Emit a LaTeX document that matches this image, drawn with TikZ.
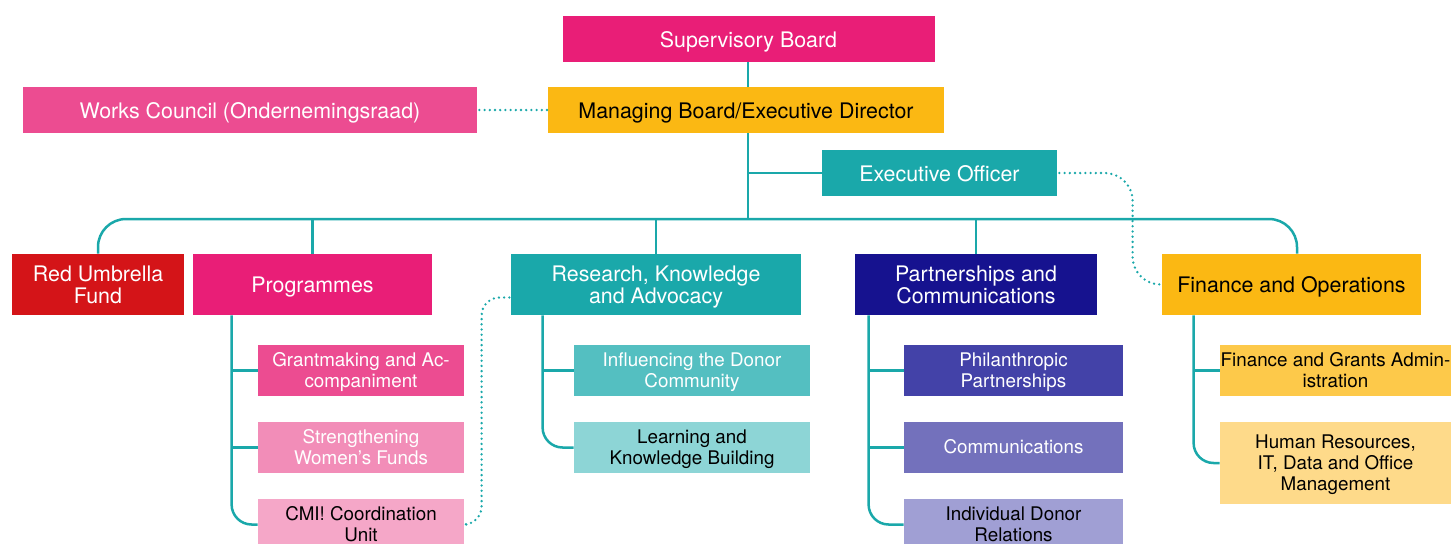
\documentclass[tikz,border=0pt]{standalone}
\usepackage{fontspec}
\setmainfont{TeX Gyre Heros}
\usepackage{tikz}

\definecolor{lineTeal}{RGB}{26,168,170}
\definecolor{boardPink}{RGB}{233,30,119}
\definecolor{boardAmber}{RGB}{251,184,19}
\definecolor{councilPink}{RGB}{236,76,145}
\definecolor{fundRed}{RGB}{212,20,24}
\definecolor{deptNavy}{RGB}{22,18,143}
\definecolor{pinkMid}{RGB}{242,141,184}
\definecolor{pinkLight}{RGB}{245,167,200}
\definecolor{tealMid}{RGB}{84,191,193}
\definecolor{tealLight}{RGB}{141,213,214}
\definecolor{navyDark}{RGB}{67,66,168}
\definecolor{navyMid}{RGB}{115,113,188}
\definecolor{navyLight}{RGB}{160,159,212}
\definecolor{amberMid}{RGB}{253,201,74}
\definecolor{amberLight}{RGB}{254,218,138}

% struts that keep the text centred the same way in every box
\newcommand{\unittop}{\rule{0pt}{10.5pt}}
\newcommand{\unitbot}{\rule[-2.5pt]{0pt}{2.5pt}}
\newcommand{\teamtop}{\rule{0pt}{8.2pt}}
\newcommand{\teambot}{\rule[-2.2pt]{0pt}{2.2pt}}

\begin{document}
\begin{tikzpicture}[x=0.5pt, y=-0.5pt,
	unit/.style={rectangle, inner sep=0pt, align=center, minimum height=23pt, font=\fontsize{10.7}{11}\selectfont},
	dept/.style={unit, minimum height=30.5pt},
	team/.style={rectangle, inner sep=0pt, align=center, minimum height=25.5pt, font=\fontsize{9.4}{10.5}\selectfont},
	link/.style={draw=lineTeal, line width=1.25pt},
	dotlink/.style={draw=lineTeal, line width=1.3pt, line cap=round, dash pattern=on 0pt off 2.6pt}]
				\useasboundingbox (0, 0) rectangle (1453, 543);
				% Boards and staff:
				\node[unit, fill=boardPink, text=white, minimum width=186pt](sup) at (748.5, 39){\unittop Supervisory Board\unitbot};
				\node[unit, fill=boardAmber, text=black, minimum width=198pt](mgmt) at (746, 110){\unittop Managing Board/Executive Director\unitbot};
				\node[unit, fill=councilPink, text=white, minimum width=227pt](works) at (250, 110){\unittop Works Council (Ondernemingsraad)\unitbot};
				\node[unit, fill=lineTeal, text=white, minimum width=117.5pt](exec) at (939.5, 173){\unittop Executive Officer\unitbot};
				% Departments:
				\node[dept, fill=fundRed, text=white, minimum width=86pt](rumf) at (98, 284.5){\unittop Red Umbrella\\Fund\unitbot};
				\node[dept, fill=boardPink, text=white, minimum width=119.5pt](prog) at (312.5, 284.5){\unittop Programmes\unitbot};
				\node[dept, fill=lineTeal, text=white, minimum width=145pt](rka) at (656, 284.5){\unittop Research, Knowledge\\and Advocacy\unitbot};
				\node[dept, fill=deptNavy, text=white, minimum width=121pt](pc) at (976, 284.5){\unittop Partnerships and\\Communications\unitbot};
				\node[dept, fill=boardAmber, text=black, minimum width=129.5pt](fo) at (1291.5, 284.5){\unittop Finance and Operations\unitbot};
				% Teams:
				\node[team, fill=councilPink, text=white, minimum width=103pt](gm) at (361, 370.5){\teamtop Grantmaking and Ac-\\companiment\teambot};
				\node[team, fill=pinkMid, text=white, minimum width=103pt](swf) at (361, 447.5){\teamtop Strengthening\\Women’s Funds\teambot};
				\node[team, fill=pinkLight, text=black, minimum width=103pt](cmi) at (361, 524.5){\teamtop CMI! Coordination\\Unit\teambot};
				\node[team, fill=tealMid, text=white, minimum width=118pt](idc) at (692, 370.5){\teamtop Influencing the Donor\\Community\teambot};
				\node[team, fill=tealLight, text=black, minimum width=118pt](lkb) at (692, 447.5){\teamtop Learning and\\Knowledge Building\teambot};
				\node[team, fill=navyDark, text=white, minimum width=109.5pt](pp) at (1013.5, 370.5){\teamtop Philanthropic\\Partnerships\teambot};
				\node[team, fill=navyMid, text=white, minimum width=109.5pt](com) at (1013.5, 447.5){\teamtop Communications\teambot};
				\node[team, fill=navyLight, text=black, minimum width=109.5pt](idr) at (1013.5, 524.5){\teamtop Individual Donor\\Relations\teambot};
				\node[team, fill=amberMid, text=black, minimum width=115.5pt](fga) at (1335.5, 370.5){\teamtop Finance and Grants Admin-\\istration\teambot};
				\node[team, fill=amberLight, text=black, minimum width=115.5pt, minimum height=41pt](hr) at (1335.5, 463){\teamtop Human Resources,\\IT, Data and Office\\Management\teambot};
				% Lines:
				\coordinate (bus) at (748, 219);
				\coordinate (fotop) at ([xshift=2.75pt]fo.north);
				\coordinate (progstem) at ([xshift=19.5pt]prog.south west);
				\coordinate (rkastem) at ([xshift=16pt]rka.south west);
				\coordinate (pcstem) at ([xshift=7pt]pc.south west);
				\coordinate (fostem) at ([xshift=16pt]fo.south west);
				\draw[link] (sup.south -| bus) -- (mgmt.north -| bus);
				\draw[link] (mgmt.south -| bus) -- (bus);
				\draw[link] (exec.west) -- (exec.west -| bus);
				\draw[link, rounded corners=14pt] (rumf.north) |- (bus) -| (fotop);
				\draw[link] (prog.north) -- (prog.north |- bus);
				\draw[link] (rka.north) -- (rka.north |- bus);
				\draw[link] (pc.north) -- (pc.north |- bus);
				\draw[link, rounded corners=10pt] (progstem) |- (cmi.west);
				\draw[link] (gm.west) -- (gm.west -| progstem);
				\draw[link] (swf.west) -- (swf.west -| progstem);
				\draw[link, rounded corners=10pt] (rkastem) |- (lkb.west);
				\draw[link] (idc.west) -- (idc.west -| rkastem);
				\draw[link, rounded corners=10pt] (pcstem) |- (idr.west);
				\draw[link] (pp.west) -- (pp.west -| pcstem);
				\draw[link] (com.west) -- (com.west -| pcstem);
				\draw[link, rounded corners=10pt] (fostem) |- (hr.west);
				\draw[link] (fga.west) -- (fga.west -| fostem);
				% Dotted links:
				\coordinate (rkain) at ([yshift=-6.5pt]rka.west);
				\coordinate (rkabend) at ([xshift=-14.5pt]rkain);
				\coordinate (fobend) at ([xshift=-14.5pt]fo.west);
				\draw[dotlink] ([xshift=1pt]works.east) -- (mgmt.west);
				\draw[dotlink, rounded corners=9pt] ([xshift=1pt]cmi.east) -| (rkabend) -- (rkain);
				\draw[dotlink, rounded corners=14pt] ([xshift=1pt]exec.east) -| (fobend) -- (fo.west);
			\end{tikzpicture}
\end{document}
